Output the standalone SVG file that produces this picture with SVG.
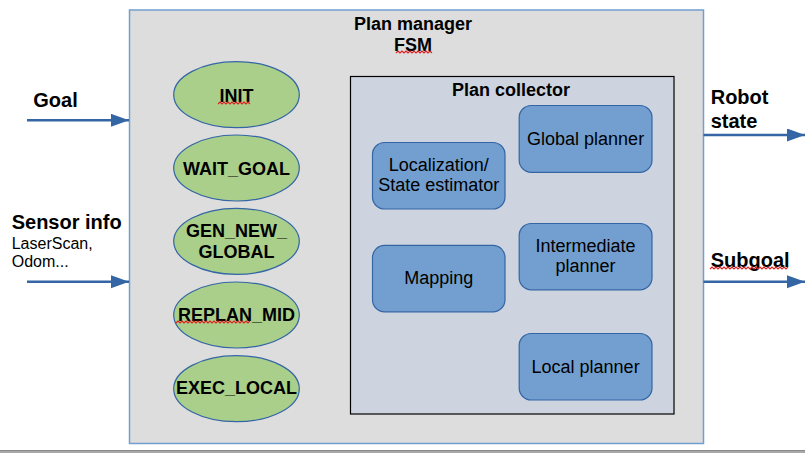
<svg xmlns="http://www.w3.org/2000/svg" width="805" height="453" viewBox="0 0 805 453">
<style>
text{font-family:"Liberation Sans",Arial,sans-serif;fill:#000}
.b{font-weight:bold;font-size:18px}
.bl{font-weight:bold;font-size:20px}
.r{font-size:18px}
.s{font-size:16px}
.st{fill:#a9cf8a;stroke:#3465a4;stroke-width:1.2}
.mod{fill:#729fcf;stroke:#3465a4;stroke-width:1.2}
.arr{stroke:#3465a4;stroke-width:2.5;fill:none;marker-end:url(#ah)}
.sq{fill:none;stroke:#e02020;stroke-width:1.1}
</style>
<defs>
<marker id="ah" markerUnits="userSpaceOnUse" markerWidth="20" markerHeight="14" refX="18" refY="6.5" orient="auto">
<path d="M0,0 L18,6.5 L0,13 Z" fill="#3465a4"/>
</marker>
</defs>
<rect x="0" y="0" width="805" height="453" fill="#fff"/>
<rect x="0" y="450" width="805" height="3" fill="#a8a8a8"/>
<rect x="0" y="450" width="805" height="1" fill="#8a8a8a"/>

<g id="plan-manager">
<rect x="129.5" y="10" width="574" height="433.5" fill="#dddddd" stroke="#729fcf" stroke-width="1.5"/>
<text class="b" x="413" y="30" text-anchor="middle">Plan manager</text>
<text class="b" x="413" y="51" text-anchor="middle">FSM</text>
<path class="sq" d="M396,53 l2,-2 l2,2 l2,-2 l2,2 l2,-2 l2,2 l2,-2 l2,2 l2,-2 l2,2 l2,-2 l2,2 l2,-2 l2,2 l2,-2 l2,2 l2,-2 l2,2"/>
</g>

<g id="plan-collector">
<rect x="350.5" y="76.5" width="323.5" height="337.5" fill="#cdd4df" stroke="#000" stroke-width="1.2"/>
<text class="b" x="511" y="96" text-anchor="middle">Plan collector</text>
</g>

<g id="init">
<ellipse class="st" cx="236.5" cy="94.7" rx="62.8" ry="33"/>
<text class="b" x="236.5" y="101.5" text-anchor="middle">INIT</text>
<path class="sq" d="M218,104 l2,-2 l2,2 l2,-2 l2,2 l2,-2 l2,2 l2,-2 l2,2 l2,-2 l2,2 l2,-2 l2,2 l2,-2 l2,2 l2,-2 l2,2"/>
</g>
<g id="wait-goal">
<ellipse class="st" cx="236.5" cy="168" rx="62.8" ry="33"/>
<text class="b" x="236.5" y="174.5" text-anchor="middle">WAIT_GOAL</text>
</g>
<g id="gen-new-global">
<ellipse class="st" cx="236.5" cy="241.3" rx="62.8" ry="33"/>
<text class="b" x="236.5" y="236.5" text-anchor="middle">GEN_NEW_</text>
<text class="b" x="236.5" y="257.7" text-anchor="middle">GLOBAL</text>
</g>
<g id="replan-mid">
<ellipse class="st" cx="236.5" cy="315" rx="62.8" ry="33"/>
<text class="b" x="236.5" y="320.7" text-anchor="middle">REPLAN_MID</text>
<path class="sq" d="M176,323 l2,-2 l2,2 l2,-2 l2,2 l2,-2 l2,2 l2,-2 l2,2 l2,-2 l2,2 l2,-2 l2,2 l2,-2 l2,2 l2,-2 l2,2 l2,-2 l2,2 l2,-2 l2,2 l2,-2 l2,2 l2,-2 l2,2 l2,-2 l2,2 l2,-2 l2,2 l2,-2 l2,2 l2,-2 l2,2 l2,-2 l2,2 l2,-2 l2,2 l2,-2"/>
</g>
<g id="exec-local">
<ellipse class="st" cx="236.5" cy="388.7" rx="62.8" ry="33"/>
<text class="b" x="236.5" y="394.3" text-anchor="middle">EXEC_LOCAL</text>
</g>

<g id="localization">
<rect class="mod" x="372.5" y="142.5" width="132.5" height="66.5" rx="12"/>
<text class="r" x="438.7" y="170.7" text-anchor="middle">Localization/</text>
<text class="r" x="438.7" y="191.2" text-anchor="middle">State estimator</text>
</g>
<g id="mapping">
<rect class="mod" x="372.5" y="245.3" width="132.5" height="66.5" rx="12"/>
<text class="r" x="438.7" y="284.3" text-anchor="middle">Mapping</text>
</g>
<g id="global-planner">
<rect class="mod" x="519.2" y="105.5" width="132.8" height="66.8" rx="12"/>
<text class="r" x="585.6" y="145" text-anchor="middle">Global planner</text>
</g>
<g id="intermediate-planner">
<rect class="mod" x="519.2" y="223.5" width="132.8" height="66.3" rx="12"/>
<text class="r" x="585.6" y="251.7" text-anchor="middle">Intermediate</text>
<text class="r" x="585.6" y="272.4" text-anchor="middle">planner</text>
</g>
<g id="local-planner">
<rect class="mod" x="519.2" y="333.5" width="132.8" height="66.5" rx="12"/>
<text class="r" x="585.6" y="372.7" text-anchor="middle">Local planner</text>
</g>

<g id="connectors">
<line class="arr" x1="27" y1="120.3" x2="129" y2="120.3"/>
<line class="arr" x1="27" y1="281.7" x2="129" y2="281.7"/>
<line class="arr" x1="703.5" y1="135" x2="805" y2="135"/>
<line class="arr" x1="703.5" y1="281.7" x2="805" y2="281.7"/>
</g>

<g id="labels">
<text class="bl" x="33.3" y="107.3">Goal</text>
<text class="bl" x="11.7" y="229">Sensor info</text>
<text class="s" x="11.7" y="249">LaserScan,</text>
<text class="s" x="11.7" y="266.7">Odom...</text>
<text class="bl" x="710.7" y="104.3">Robot</text>
<text class="bl" x="710.7" y="127.7">state</text>
<text class="bl" x="710.7" y="266.7">Subgoal</text>
<path class="sq" d="M710,269 l2,-2 l2,2 l2,-2 l2,2 l2,-2 l2,2 l2,-2 l2,2 l2,-2 l2,2 l2,-2 l2,2 l2,-2 l2,2 l2,-2 l2,2 l2,-2 l2,2 l2,-2 l2,2 l2,-2 l2,2 l2,-2 l2,2 l2,-2 l2,2 l2,-2 l2,2 l2,-2 l2,2 l2,-2 l2,2 l2,-2 l2,2 l2,-2 l2,2 l2,-2 l2,2 l2,-2"/>
</g>
</svg>
